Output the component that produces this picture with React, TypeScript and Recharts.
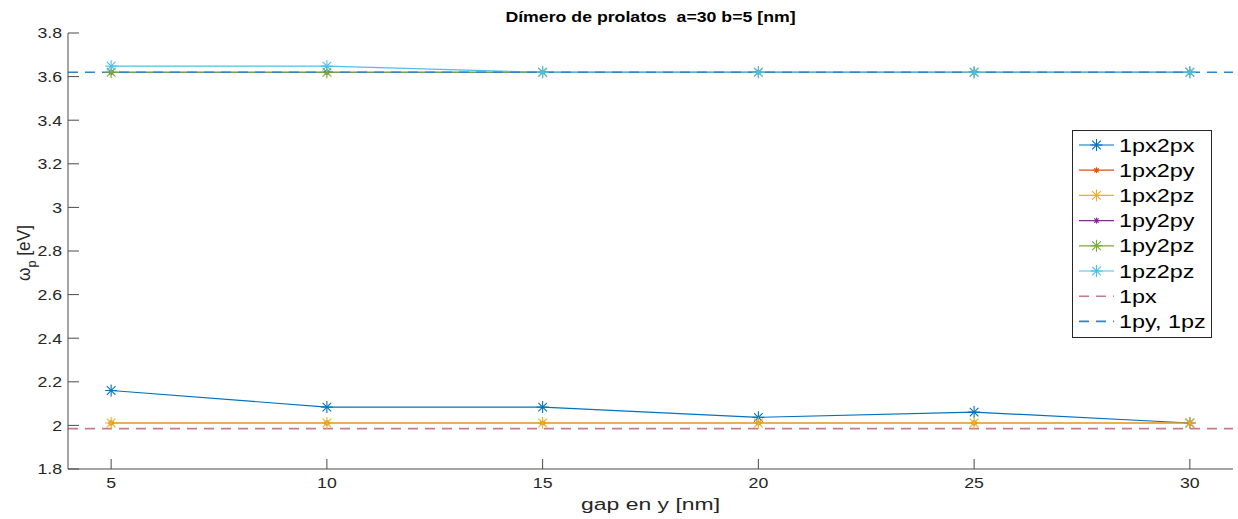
import React from 'react';
import { LineChart, Line, XAxis, YAxis, ReferenceLine, Legend } from 'recharts';

// Gap between the two prolate spheroids [nm]
const gaps = [5, 10, 15, 20, 25, 30];

// Coupled plasmon energies [eV]
const px2px = [2.16, 2.084, 2.084, 2.037, 2.061, 2.011];
const px2py = [2.011, 2.011, 2.011, 2.011, 2.011, 2.011];
const px2pz = [2.011, 2.011, 2.011, 2.011, 2.011, 2.011];
const py2py = [3.62, 3.62, 3.62, 3.62, 3.62, 3.62];
const py2pz = [3.62, 3.62, 3.62, 3.62, 3.62, 3.62];
const pz2pz = [3.648, 3.648, 3.62, 3.62, 3.62, 3.62];

// Single-particle modes [eV]
const singlePx = 1.985;
const singlePyPz = 3.62;

const xTicks = [5, 10, 15, 20, 25, 30];
const yTicks = [1.8, 2, 2.2, 2.4, 2.6, 2.8, 3, 3.2, 3.4, 3.6, 3.8];

const seriesKeys = ['px2px', 'px2py', 'px2pz', 'py2py', 'py2pz', 'pz2pz'];
const seriesNames = ['1px2px', '1px2py', '1px2pz', '1py2py', '1py2pz', '1pz2pz'];
const seriesValues = [px2px, px2py, px2pz, py2py, py2pz, pz2pz];
const seriesColors = ['#0072BD', '#D95319', '#EDB120', '#7E2F8E', '#77AC30', '#4DBEEE'];
const seriesMarker = [6, 3, 6, 3, 6, 6];

const refNames = ['1px', '1py, 1pz'];
const refColors = ['#c97a89', '#2c86c9'];

const data = gaps.map((g, i) => {
  const row: Record<string, number> = { gap: g };
  seriesKeys.forEach((k, s) => {
    row[k] = seriesValues[s][i];
  });
  return row;
});

const FONT = '"Liberation Sans", Arial, Helvetica, sans-serif';
const AXIS = '#262626';
const LINE = '#4a4a4a';

// Text glyphs are drawn slightly widened horizontally
const TICK_STRETCH = 1.18;
const LABEL_STRETCH = 1.35;
const LEGEND_STRETCH = 1.3;

const Asterisk = ({ cx, cy, r, color }: { cx: number; cy: number; r: number; color: string }) => {
  const d = r * 0.72;
  return (
    <g stroke={color} strokeWidth={1.1} fill="none">
      <line x1={cx - r} y1={cy} x2={cx + r} y2={cy} />
      <line x1={cx} y1={cy - r} x2={cx} y2={cy + r} />
      <line x1={cx - d} y1={cy - d} x2={cx + d} y2={cy + d} />
      <line x1={cx - d} y1={cy + d} x2={cx + d} y2={cy - d} />
    </g>
  );
};

const XTick = (props: any) => {
  const { x, y, payload } = props;
  return (
    <text
      transform={`translate(${x},${y}) scale(${TICK_STRETCH},1)`}
      textAnchor="middle"
      dy="0.71em"
      fontSize={15}
      fontFamily={FONT}
      fill={AXIS}
    >
      {String(payload.value)}
    </text>
  );
};

const YTick = (props: any) => {
  const { x, y, payload } = props;
  return (
    <text
      transform={`translate(${x},${y}) scale(${TICK_STRETCH},1)`}
      textAnchor="end"
      dy="0.355em"
      fontSize={15}
      fontFamily={FONT}
      fill={AXIS}
    >
      {String(payload.value)}
    </text>
  );
};

const LegendBox = () => {
  const rowH = 25.2;
  const entry = (n: string, y: number) => (
    <text
      transform={`translate(47,${y + 6.5}) scale(${LEGEND_STRETCH},1)`}
      fontSize={18}
      fontFamily={FONT}
      fill="#000"
    >
      {n}
    </text>
  );
  return (
    <svg width={141} height={209} style={{ display: 'block' }}>
      <rect x={0.5} y={0.5} width={139} height={207} fill="#fff" stroke={AXIS} strokeWidth={1} />
      {seriesNames.map((n, i) => {
        const y = 15 + i * rowH;
        return (
          <g key={n}>
            <line x1={7} y1={y} x2={42} y2={y} stroke={seriesColors[i]} strokeWidth={1.2} />
            <Asterisk cx={24.5} cy={y} r={seriesMarker[i]} color={seriesColors[i]} />
            {entry(n, y)}
          </g>
        );
      })}
      {refNames.map((n, j) => {
        const y = 15 + (seriesNames.length + j) * rowH;
        return (
          <g key={n}>
            <line x1={7} y1={y} x2={42} y2={y} stroke={refColors[j]} strokeWidth={1.6} strokeDasharray="10 7" />
            {entry(n, y)}
          </g>
        );
      })}
    </svg>
  );
};

const YLabel = (props: any) => {
  const vb = props.viewBox || { x: 0, y: 0, width: 0, height: 0 };
  const cx = vb.x + 30;
  const cy = vb.y + vb.height / 2 + 2;
  return (
    <text
      transform={`translate(${cx},${cy}) rotate(-90) scale(1.15,1.2)`}
      textAnchor="middle"
      fontFamily={FONT}
      fontSize={15}
      fill={AXIS}
    >
      <tspan>ω</tspan>
      <tspan fontSize={11} dy={5}>p</tspan>
      <tspan dy={-5}>{'\u00A0[eV]'}</tspan>
    </text>
  );
};

const XLabel = (props: any) => {
  const vb = props.viewBox || { x: 0, y: 0, width: 0, height: 0 };
  const cx = vb.x + vb.width / 2;
  const by = vb.y + vb.height - 9;
  return (
    <text
      transform={`translate(${cx},${by}) scale(${LABEL_STRETCH},1)`}
      textAnchor="middle"
      fontFamily={FONT}
      fontSize={17}
      fill={AXIS}
    >
      gap en y [nm]
    </text>
  );
};

export default function App() {
  return (
    <div style={{ position: 'absolute', left: 0, top: 0, width: 1238, height: 519, background: '#fff' }}>
      <div
        style={{
          position: 'absolute',
          left: 0,
          width: 1301,
          top: 9,
          textAlign: 'center',
          fontFamily: FONT,
          fontWeight: 'bold',
          fontSize: 15,
          lineHeight: '16px',
          color: '#000',
          whiteSpace: 'pre',
          transform: 'scaleX(1.18)',
          transformOrigin: '650.5px 0',
          zIndex: 2,
        }}
      >
        {'Dímero de prolatos  a=30 b=5 [nm]'}
      </div>
      <LineChart width={1238} height={519} data={data} margin={{ top: 33, right: 5, bottom: 0, left: 0 }}>
        <XAxis
          dataKey="gap"
          type="number"
          domain={[4, 31]}
          ticks={xTicks}
          allowDataOverflow
          height={50}
          stroke={AXIS}
          tickSize={-10}
          tickMargin={18}
          tick={<XTick />}
          axisLine={{ stroke: LINE, strokeWidth: 1 }}
          tickLine={{ stroke: LINE }}
          label={{ content: (p: any) => <XLabel {...p} /> }}
        />
        <YAxis
          type="number"
          domain={[1.8, 3.8]}
          ticks={yTicks}
          allowDataOverflow
          width={68}
          stroke={AXIS}
          tickSize={-11}
          tickMargin={17}
          tick={<YTick />}
          axisLine={{ stroke: LINE, strokeWidth: 1 }}
          tickLine={{ stroke: LINE }}
          label={{ content: (p: any) => <YLabel {...p} /> }}
        />
        {seriesKeys.map((k, s) => (
          <Line
            key={k}
            dataKey={k}
            name={seriesNames[s]}
            type="linear"
            stroke={seriesColors[s]}
            strokeWidth={1.2}
            isAnimationActive={false}
            activeDot={false}
            dot={(p: any) => (
              <Asterisk key={`${k}-${p.index}`} cx={p.cx} cy={p.cy} r={seriesMarker[s]} color={seriesColors[s]} />
            )}
          />
        ))}
        <ReferenceLine y={singlePx} stroke={refColors[0]} strokeWidth={1.8} strokeDasharray="10 7" ifOverflow="visible" />
        <ReferenceLine y={singlePyPz} stroke={refColors[1]} strokeWidth={1.6} strokeDasharray="10 7" ifOverflow="visible" />
        <Legend
          layout="vertical"
          align="center"
          verticalAlign="middle"
          content={() => <LegendBox />}
          wrapperStyle={{ left: 1072, top: 130, width: 141, height: 209, bottom: 'auto', right: 'auto' }}
        />
      </LineChart>
    </div>
  );
}
